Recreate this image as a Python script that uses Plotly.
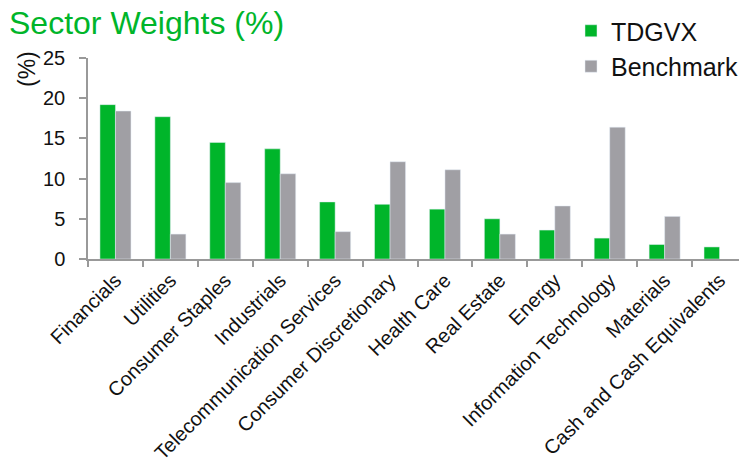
import plotly.graph_objects as go

categories = ["Financials", "Utilities", "Consumer Staples", "Industrials",
              "Telecommunication Services", "Consumer Discretionary", "Health Care",
              "Real Estate", "Energy", "Information Technology", "Materials",
              "Cash and Cash Equivalents"]
tdgvx = [19.2, 17.7, 14.5, 13.7, 7.1, 6.8, 6.2, 5.0, 3.6, 2.6, 1.8, 1.5]
benchmark = [18.4, 3.1, 9.5, 10.6, 3.4, 12.1, 11.1, 3.1, 6.6, 16.4, 5.3, None]
y_ticks = [0, 5, 10, 15, 20, 25]

GREEN = "#00B52A"
GRAY = "#A09FA4"
FONT = "Liberation Sans, Arial, sans-serif"

W, H = 739, 453

fig = go.Figure()
fig.add_trace(go.Bar(name="TDGVX", x=categories, y=tdgvx, marker_color=GREEN))
fig.add_trace(go.Bar(name="Benchmark", x=categories, y=benchmark, marker_color=GRAY))

fig.update_layout(
    width=W, height=H,
    margin=dict(l=80, r=0, t=50, b=202, autoexpand=False),
    paper_bgcolor="white", plot_bgcolor="white",
    font=dict(family=FONT, color="#111111"),
    barmode="group", bargap=0.435, bargroupgap=0,
    title=dict(text="Sector Weights (%)", font=dict(size=32, color=GREEN, family=FONT),
               xref="container", x=1/W, xanchor="left",
               yref="container", y=1 - 15/H, yanchor="middle", pad=dict(l=0, t=0, b=0, r=0)),
    legend=dict(font=dict(size=25, color="#111111"), xref="container", x=563/W, xanchor="left",
                yref="container", y=1 - 0/H, yanchor="top",
                bgcolor="rgba(0,0,0,0)", tracegroupgap=0),
    showlegend=True,
)
fig.update_yaxes(range=[0, 25], tickvals=y_ticks, showgrid=False, zeroline=False,
                 showline=True, linecolor="#999999", linewidth=1.5, automargin=False,
                 ticks="outside", ticklen=7, tickcolor="#999999", tickwidth=1.5,
                 tickfont=dict(size=20, color="#111111"), ticklabelstandoff=10)
fig.update_xaxes(showgrid=False, showline=True, linecolor="#999999", linewidth=1.5,
                 automargin=False,
                 ticks="outside", tickson="boundaries", ticklen=6, tickcolor="#999999",
                 tickwidth=1.5, tickangle=-45, tickfont=dict(size=20, color="#111111"))
fig.add_annotation(text="(%)", xref="paper", yref="paper", x=(27 - 88) / 659, y=(259 - 69) / 201,
                   xanchor="center", yanchor="middle", textangle=-90, showarrow=False,
                   font=dict(size=23, color="#111111", family=FONT))

fig.write_html("out.html")
